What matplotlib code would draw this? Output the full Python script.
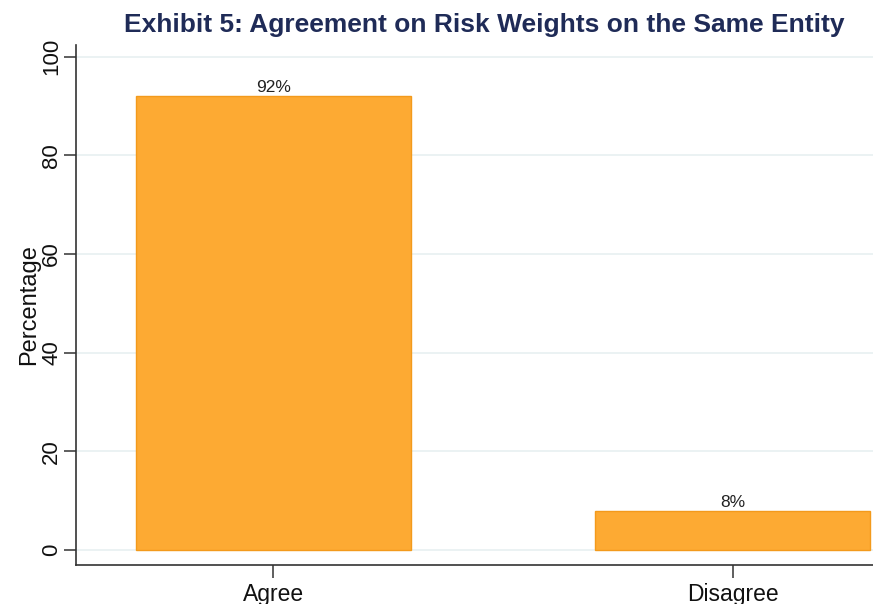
import matplotlib
matplotlib.use("Agg")
import matplotlib.pyplot as plt
from matplotlib import font_manager

categories = ["Agree", "Disagree"]
percentages = [92, 8]
bar_labels = ["92%", "8%"]
yticks = [0, 20, 40, 60, 80, 100]

names = {f.name for f in font_manager.fontManager.ttflist}
title_font = "Liberation Sans Narrow" if "Liberation Sans Narrow" in names else "Liberation Sans"
plt.rcParams["font.family"] = ["Liberation Sans", "DejaVu Sans"]

fig = plt.figure(figsize=(8.73, 6.04), dpi=100)
W, H = 873, 604
# axes: left spine at x=76, bottom spine at y=565, top near y=45, extends past right edge
ax = fig.add_axes([76 / W, (H - 565) / H, (930 - 76) / W, (565 - 45) / H])

x = list(range(len(categories)))
bars = ax.bar(x, percentages, width=0.6, color="#FDAA33", edgecolor="#F39A1C",
              linewidth=1.0, zorder=3)
for xi, v, lab in zip(x, percentages, bar_labels):
    ax.text(xi, v + 0.2, lab, ha="center", va="bottom", fontsize=12.5,
            color="#222222", zorder=4)

ax.set_xlim(-0.43, 1.43)
ax.set_ylim(-3.04, 102.4)
ax.set_yticks(yticks)
ax.set_yticklabels([str(t) for t in yticks], rotation=90, va="center",
                   fontsize=16)
ax.set_xticks(x)
ax.set_xticklabels(categories, fontsize=16.5)
ax.tick_params(axis="both", direction="out", length=9, width=1.1,
               color="#333333", labelcolor="#111111")
ax.tick_params(axis="y", pad=1)
ax.tick_params(axis="x", pad=4)
ax.grid(axis="y", color="#E8F0F1", linewidth=1.2, zorder=0)
ax.set_axisbelow(True)
for s in ["top", "right"]:
    ax.spines[s].set_visible(False)
for s in ["left", "bottom"]:
    ax.spines[s].set_color("#333333")
    ax.spines[s].set_linewidth(1.2)
ax.set_ylabel("Percentage", fontsize=17, color="#111111", labelpad=1)

fig.text(484 / W, 1 - 25 / H, "Exhibit 5: Agreement on Risk Weights on the Same Entity",
         ha="center", va="center", fontsize=19, fontweight="bold",
         color="#1F2B57", family=[title_font, "DejaVu Sans"])

fig.savefig("out.png", dpi=100)
